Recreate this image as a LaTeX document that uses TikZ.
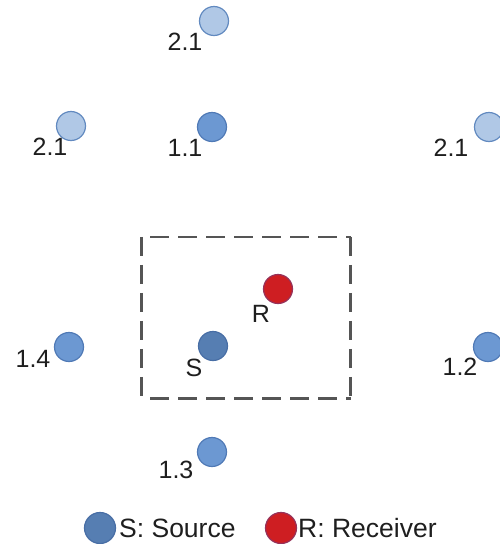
\documentclass[tikz,border=0pt]{standalone}
\usepackage{fontspec}
\setmainfont{Liberation Sans}
\begin{document}
\begin{tikzpicture}[x=1pt,y=-1pt,
  dot/.style={circle,inner sep=0pt,minimum size=29pt,line width=1.2pt},
  far/.style={dot,fill={rgb,255:red,176;green,200;blue,230},draw={rgb,255:red,98;green,138;blue,192}},
  near/.style={dot,fill={rgb,255:red,108;green,152;blue,210},draw={rgb,255:red,80;green,122;blue,182}},
  src/.style={dot,fill={rgb,255:red,86;green,126;blue,178},draw={rgb,255:red,72;green,110;blue,165}},
  rcv/.style={dot,fill={rgb,255:red,206;green,30;blue,34},draw={rgb,255:red,150;green,50;blue,90}},
  lbl/.style={inner sep=0pt,font=\fontsize{25}{28}\selectfont,text={rgb,255:red,30;green,30;blue,30}},
  leg/.style={inner sep=0pt,font=\fontsize{26.5}{30}\selectfont,text={rgb,255:red,30;green,30;blue,30}},
  boxline/.style={draw={rgb,255:red,85;green,85;blue,85},line width=2.6pt,dash pattern=on 19pt off 9pt},
  hside/.style={boxline,dash phase=19pt},
  vside/.style={boxline,dash phase=0pt}
]
\useasboundingbox (0,0) rectangle (500,544);
\clip (0,0) rectangle (500,544);
% dashed box
\node[rectangle,minimum width=209pt,minimum height=161pt,inner sep=0pt] (box) at (246,317.5) {};
\draw[hside] (box.north west) -- (box.north east);
\draw[hside] (box.south west) -- (box.south east);
\draw[vside] (box.north west) -- (box.south west);
\draw[vside] (box.north east) -- (box.south east);
% circles
\node[far] (t21) at (214,21) {};
\node[far] (l21) at (71,126) {};
\node[near] (n11) at (212,127) {};
\node[far] (r21) at (489,127) {};
\node[rcv] (R) at (278,289) {};
\node[src] (S) at (213,346) {};
\node[near] (n14) at (69,347) {};
\node[near] (n12) at (488,347) {};
\node[near] (n13) at (212,452) {};
% labels
\node[lbl] (lt21) at (185,42) {2.1};
\node[lbl] (ll21) at (50,147) {2.1};
\node[lbl] (l11) at (185,148) {1.1};
\node[lbl] (lr21) at (451,148) {2.1};
\node[lbl] (lR) at (261,314) {R};
\node[lbl] (lS) at (194,368) {S};
\node[lbl] (l14) at (33,359) {1.4};
\node[lbl] (l12) at (460,367) {1.2};
\node[lbl] (l13) at (176,470) {1.3};
% legend
\node[src,minimum size=31pt] (legS) at (100,528) {};
\node[leg,anchor=west] (legSt) at (119,528) {S: Source};
\node[rcv,minimum size=31pt] (legR) at (281,528) {};
\node[leg,anchor=west] (legRt) at (298,528) {R: Receiver};
\end{tikzpicture}
\end{document}
